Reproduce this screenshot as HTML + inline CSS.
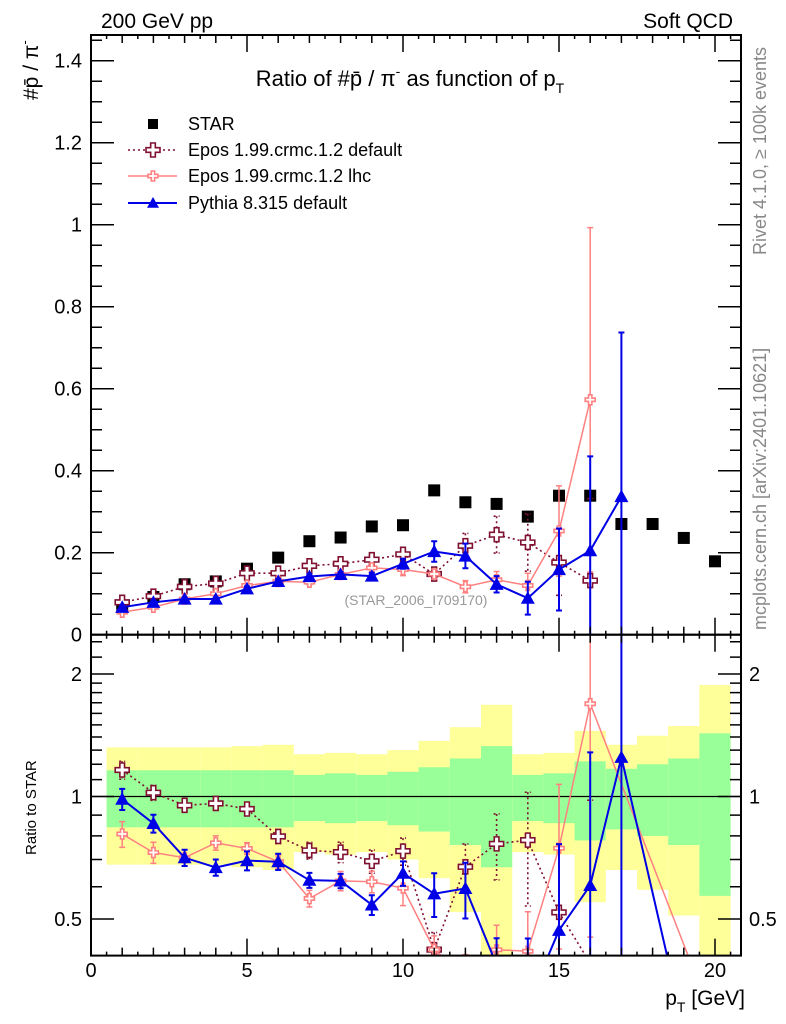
<!DOCTYPE html>
<html><head><meta charset="utf-8"><style>
html,body{margin:0;padding:0;background:#fff;overflow:hidden;width:786px;height:1024px;}
svg{display:block;font-family:"Liberation Sans",sans-serif;}
</style></head><body>
<svg id="chart" width="786" height="1024" viewBox="0 0 786 1024" xmlns="http://www.w3.org/2000/svg">
<defs><clipPath id="clipMain"><rect x="91" y="35" width="650" height="600"/></clipPath>
<clipPath id="clipRatio"><rect x="91" y="635" width="650" height="320.6"/></clipPath></defs>
<g id="bands" clip-path="url(#clipRatio)"></g>
<g id="marks"></g>
<g id="axes"></g>
<text x="101" y="28" font-size="21">200 GeV pp</text>
<text x="733" y="28" font-size="21" text-anchor="end">Soft QCD</text>
<text x="410" y="86" font-size="22" text-anchor="middle">Ratio of #p̄ / π<tspan font-size="14" dy="-10">-</tspan><tspan dy="10"> as function of p</tspan><tspan font-size="14" dy="7">T</tspan></text>
<text transform="translate(38,100) rotate(-90)" font-size="21">#p̄ / π<tspan font-size="13" dy="-9">-</tspan></text>
<text transform="translate(36,855) rotate(-90)" font-size="15">Ratio to STAR</text>
<text x="745" y="1005" font-size="21" text-anchor="end">p<tspan font-size="14" dy="7">T</tspan><tspan dy="-7"> [GeV]</tspan></text>
<text transform="translate(766,255) rotate(-90)" font-size="18" fill="#888">Rivet 4.1.0, ≥ 100k events</text>
<text transform="translate(766,630) rotate(-90)" font-size="18" fill="#888">mcplots.cern.ch [arXiv:2401.10621]</text>
<text x="416" y="605" font-size="14" fill="#999" text-anchor="middle">(STAR_2006_I709170)</text>
<g id="legend"></g>
</svg>
<script>
const xs = [1,2,3,4,5,6,7,8,9,10,11,12,13,14,15,16,17,18,19,20];
const starVals = [0.068,0.092,0.123,0.130,0.161,0.188,0.228,0.237,0.264,0.267,0.352,0.323,0.319,0.288,0.339,0.339,0.270,0.270,0.236,0.179];
const starStatErr = [0.16,0.16,0.16,0.16,0.16,0.16,0.13,0.14,0.13,0.15,0.18,0.24,0.33,0.13,0.14,0.22,0.17,0.20,0.24,0.43];
const starTotErr = [0.32,0.32,0.32,0.32,0.33,0.34,0.27,0.28,0.27,0.30,0.37,0.48,0.68,0.27,0.28,0.45,0.34,0.41,0.49,0.88];
const eposDefX = [1,2,3,4,5,6,7,8,9,10,11,12,13,14,15,16];
const eposDefVals = [0.079,0.094,0.117,0.125,0.150,0.150,0.168,0.173,0.183,0.196,0.148,0.217,0.244,0.225,0.176,0.132];
const eposDefErr = [0.004,0.004,0.004,0.004,0.004,0.006,0.008,0.010,0.012,0.015,0.015,0.030,0.045,0.070,0.080,0.200];
const eposLhcX = [1,2,3,4,5,6,7,8,9,10,11,12,13,14,15,16];
const eposLhcVals = [0.055,0.067,0.087,0.100,0.120,0.130,0.128,0.147,0.163,0.159,0.148,0.117,0.134,0.120,0.253,0.573];
const eposLhcErr = [0.004,0.004,0.004,0.004,0.004,0.005,0.006,0.008,0.010,0.015,0.012,0.015,0.020,0.030,0.110,0.420];
const pythiaX = [1,2,3,4,5,6,7,8,9,10,11,12,13,14,15,16,17];
const pythiaVals = [0.067,0.079,0.087,0.087,0.112,0.130,0.142,0.147,0.143,0.173,0.203,0.192,0.123,0.089,0.159,0.205,0.337];
const pythiaErr = [0.004,0.004,0.004,0.004,0.006,0.006,0.006,0.006,0.008,0.012,0.025,0.030,0.020,0.040,0.100,0.230,0.400];
const ratioTailX = {lhc:19.2, pythia:18.5};
const yTicksMain = [0,0.2,0.4,0.6,0.8,1,1.2,1.4];
const yTickLabelsMain = ["0","0.2","0.4","0.6","0.8","1","1.2","1.4"];
const xTicks = [0,5,10,15,20];
const ratioTicks = [0.5,1,2];

const NS="http://www.w3.org/2000/svg";
const X0=91, X1=741, YT=35, YM=634.7, YB=955.6;
const sx = v => X0 + v*31.2;
const sy = v => YM - Math.min(v,1.47)*410;
const RC=796.5, RS=122.5;
const sr = r => RC - RS*Math.log2(Math.min(Math.max(r,0.39),2.6));
function mk(tag, attrs, parent){const e=document.createElementNS(NS,tag);for(const k in attrs)e.setAttribute(k,attrs[k]);parent.appendChild(e);return e;}
const bands=document.getElementById('bands'), marks=document.getElementById('marks'), axes=document.getElementById('axes'), legend=document.getElementById('legend');

xs.forEach((x,i)=>{
  const e2=starTotErr[i], e1=starStatErr[i];
  let r=mk('rect',{x:sx(x-0.5),y:sr(1+e2),width:31.2,height:sr(1-e2)-sr(1+e2),fill:'#ffff99'},bands);
  
  
  let g=mk('rect',{x:sx(x-0.5),y:sr(1+e1),width:31.2,height:sr(1-e1)-sr(1+e1),fill:'#99ff99'},bands);
  
  
});
let one=mk('line',{x1:X0,x2:X1,y1:sr(1),y2:sr(1),stroke:'#000','stroke-width':1.2},bands);



const gMain=mk('g',{'clip-path':'url(#clipMain)'},marks);
const gRatio=mk('g',{'clip-path':'url(#clipRatio)'},marks);

function cross(parent,cx,cy,s,color,fillc){
  const a=s/3, b=s;
  const d=`M${cx-a},${cy-b}h${2*a}v${b-a}h${b-a}v${2*a}h${-(b-a)}v${b-a}h${-2*a}v${-(b-a)}h${-(b-a)}v${-2*a}h${b-a}z`;
  return mk('path',{d:d,fill:fillc,stroke:color,'stroke-width':1.6},parent);
}
function tri(parent,cx,cy,s,color){
  return mk('path',{d:`M${cx},${cy-s}L${cx+s},${cy+s*0.8}L${cx-s},${cy+s*0.8}z`,fill:color},parent);
}
// log-space line with proper clipping at ratio-axis limits
function ratioY(r){return RC - RS*Math.log2(r);}
function series(name,xa,va,ea,color,dash,marker,msize,width,tail){
  [gMain,gRatio].forEach((g,k)=>{
    let p;
    if(k===0){
      p=xa.map((x,i)=>sx(x)+','+sy(va[i])).join(' ');
    } else {
      // build segments clipped to panel in y
      const pts=xa.map((x,i)=>[sx(x), ratioY(va[i]/starVals[xs.indexOf(x)])]);
      if(tail) pts.push([sx(tail), YB+5]);
      const segs=[];
      for(let i=0;i<pts.length-1;i++){
        let [xa1,ya1]=pts[i],[xb,yb]=pts[i+1];
        const lo=YM-1, hi=YB+1;
        const clip=(x1,y1,x2,y2)=>{
          let t0=0,t1=1;const dy=y2-y1;
          if(dy===0){ if(y1<lo||y1>hi) return null; }
          else{
            let ta=(lo-y1)/dy, tb=(hi-y1)/dy;
            if(ta>tb){const tt=ta;ta=tb;tb=tt;}
            t0=Math.max(t0,ta);t1=Math.min(t1,tb);
            if(t0>t1) return null;
          }
          return [x1+(x2-x1)*t0,y1+dy*t0,x1+(x2-x1)*t1,y1+dy*t1];
        };
        const c=clip(xa1,ya1,xb,yb);
        if(c) segs.push(`M${c[0]},${c[1]}L${c[2]},${c[3]}`);
      }
      p=segs.join('');
    }
    const line = k===0
      ? mk('polyline',{points:p,fill:'none',stroke:color,'stroke-width':width,'stroke-dasharray':dash||'none'},g)
      : mk('path',{d:p,fill:'none',stroke:color,'stroke-width':width,'stroke-dasharray':dash||'none'},g);
    
    
    xa.forEach((x,i)=>{
      const st=starVals[xs.indexOf(x)];
      const v=k===0?va[i]:va[i]/st, e=k===0?ea[i]:ea[i]/st;
      const yt=k===0?sy(v+e):sr(v+e), yb=k===0?sy(Math.max(v-e,0)):sr(v-e);
      const eb=mk('path',{d:`M${sx(x)},${yt}V${yb}M${sx(x)-3},${yt}h6M${sx(x)-3},${yb}h6`,stroke:color,'stroke-width':width,fill:'none','stroke-dasharray':dash||'none'},g);
      
      
      if(k===1 && (v<0.39||v>2.6)) return;
      const cy=k===0?sy(v):sr(v);
      const m = marker==='tri'?tri(g,sx(x),cy,msize,color):cross(g,sx(x),cy,msize,color,'#fff');
      
      
    });
  });
}
xs.forEach((x,i)=>{
  const r=mk('rect',{x:sx(x)-6,y:sy(starVals[i])-6,width:12,height:12,fill:'#000'},gMain);
  
  
});
series('epos-default',eposDefX,eposDefVals,eposDefErr,'#7f1030','2,3','cross',7,1.6,null);
series('epos-lhc',eposLhcX,eposLhcVals,eposLhcErr,'#ff8080',null,'cross',5,1.5,ratioTailX.lhc);
series('pythia',pythiaX,pythiaVals,pythiaErr,'#0000e6',null,'tri',7,2,ratioTailX.pythia);

[[YT,YM],[YM,YB]].forEach(([a,b],k)=>{
  const f=mk('rect',{x:X0,y:a,width:X1-X0,height:b-a,fill:'none',stroke:'#000','stroke-width':2},axes);
  
  
});
let d='';
for(let t=0;t<=20.8;t+=0.5){
  const isMaj=Math.abs(t%5)<1e-6, isInt=Math.abs(t%1)<1e-6;
  const L=isMaj?17:(isInt?8:4);
  [YT,YM].forEach(y0=>{d+=`M${sx(t)},${y0}v${L}`;});
  [YM,YB].forEach(y0=>{d+=`M${sx(t)},${y0}v${-L}`;});
}
for(let v=0;v<=1.46;v+=0.05){
  const maj=Math.abs((v/0.2)-Math.round(v/0.2))<1e-6;
  const L=maj?23:11;
  d+=`M${X0},${sy(v)}h${L}M${X1},${sy(v)}h${-L}`;
}
[0.4,0.5,0.6,0.7,0.8,0.9,1,1.1,1.2,1.3,1.4,1.5,1.6,1.7,1.8,1.9,2,2.2,2.4].forEach(r=>{
  const maj=ratioTicks.includes(r);
  const L=maj?23:11;
  if(ratioY(r)>YM && ratioY(r)<YB) d+=`M${X0},${ratioY(r)}h${L}M${X1},${ratioY(r)}h${-L}`;
});
let tk=mk('path',{d:d,stroke:'#000','stroke-width':1.5,fill:'none'},axes);


yTicksMain.forEach((v,i)=>{
  const t=mk('text',{x:82,y:sy(v)+7,'font-size':20,'text-anchor':'end'},axes);
  t.textContent=yTickLabelsMain[i];
  
  
});
xTicks.forEach(v=>{
  const t=mk('text',{x:sx(v),y:977,'font-size':20,'text-anchor':'middle'},axes);
  t.textContent=String(v);
  
  
});
ratioTicks.forEach(r=>{
  [[82,'end'],[749,'start']].forEach(([x,an])=>{
    const t=mk('text',{x:x,y:ratioY(r)+7,'font-size':20,'text-anchor':an},axes);
    t.textContent=String(r);
    
    
  });
});
const legNames=['STAR','Epos 1.99.crmc.1.2 default','Epos 1.99.crmc.1.2 lhc','Pythia 8.315 default'];
const legY=[124,150,176,203];
legNames.forEach((n,i)=>{
  const g=mk('g',{},legend);
  
  
  const y=legY[i];
  if(i===0){mk('rect',{x:148,y:y-5,width:10,height:10,fill:'#000'},g);}
  else{
    const col=['','#7f1030','#ff8080','#0000e6'][i];
    mk('line',{x1:128,x2:177,y1:y,y2:y,stroke:col,'stroke-width':i===3?2:1.5,'stroke-dasharray':i===1?'2,3':'none'},g);
    if(i===3) tri(g,153,y,6,col); else cross(g,153,y,i===1?7:5,col,'#fff');
  }
  const t=mk('text',{x:188,y:y+6,'font-size':18},g);
  t.textContent=n;
});
</script>
</body></html>
